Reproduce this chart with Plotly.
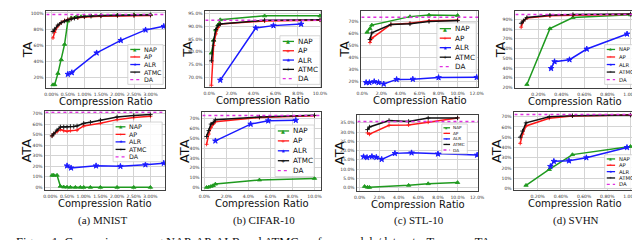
import plotly.graph_objects as go

W, H = 640, 240

# ---------------- data (values in %) ----------------
# (a) MNIST
mn_nap_x = [0.05, 0.1, 0.2, 0.3, 0.4, 0.5, 0.6, 0.75, 0.9, 1.0, 1.2, 1.5, 2.0, 2.5, 3.0]
mn_nap_ta = [11, 11, 25, 42, 61, 90, 94, 95, 95.5, 96, 96.5, 97, 97.5, 98, 98]
mn_nap_ata = [11.5, 11.5, 11.5, 1.0, 0.3, 0.2, 0.1, 0, 0, 0, 0, 0, 0, 0, 0]
mn_ap_x = [0.05, 0.1, 0.2, 0.3, 0.4, 0.5, 0.6, 0.8, 1.0, 1.5, 2.0, 2.5, 3.0]
mn_ap_ta = [69, 76, 84, 88, 90.5, 92, 93, 94, 95, 96, 96.5, 97, 97]
mn_ap_ata = [49, 51, 53, 55, 54, 53.5, 54, 54.5, 58.5, 61, 64.5, 66.5, 67.7]
mn_alr_x = [0.5, 0.62, 1.37, 2.1, 2.85, 3.4]
mn_alr_ta = [24, 26, 50.5, 66, 79, 83.5]
mn_alr_ata = [20.5, 18.5, 20.5, 20, 21.5, 23]
mn_atmc_x = [0.05, 0.1, 0.2, 0.3, 0.4, 0.5, 0.6, 0.7, 0.8, 1.0, 1.2, 1.5, 2.0, 2.5, 3.0]
mn_atmc_ta = [77, 80, 85, 88, 90, 91.5, 92.5, 93.5, 94.5, 95.5, 96, 96.5, 97, 97, 97.5]
mn_atmc_ata = [49, 51, 54.5, 57.5, 57.5, 57.5, 58, 58, 58.5, 61, 62, 64, 67, 68.4, 69.3]
mn_da_ta = 98
mn_da_ata = 71.6
mn_xticks = [0, 0.5, 1.0, 1.5, 2.0, 2.5, 3.0]

# (b) CIFAR-10
cf_nap_x = [0.2, 0.4, 0.6, 0.8, 1.0, 5.0, 10.0]
cf_nap_ta = [79.5, 84.5, 88.5, 90.5, 92.5, 94, 94]
cf_nap_ata = [0.2, 0.5, 1.2, 2, 3.5, 7.7, 9.3]
cf_ap_x = [0.2, 0.4, 0.6, 0.8, 1.0, 5.0, 10.0]
cf_ap_ta = [67, 82.5, 87, 89.5, 90.8, 92, 92.3]
cf_ap_ata = [44, 54.5, 61, 64.5, 67, 71.4, 73.2]
cf_alr_x = [1.0, 4.2, 5.8, 8.3]
cf_alr_ta = [69, 89.3, 90.2, 90.8]
cf_alr_ata = [47.5, 64.6, 68, 68.5]
cf_atmc_x = [0.2, 0.4, 0.6, 0.8, 1.0, 5.0, 10.0]
cf_atmc_ta = [76.5, 84.3, 88.7, 90.3, 90.8, 92.3, 92.5]
cf_atmc_ata = [52, 58, 64.6, 66, 69, 71.8, 73.5]
cf_da_ta = 92.3
cf_da_ata = 73.4
cf_xticks = [0, 2, 4, 6, 8, 10]

# (c) STL-10
st_nap_x = [0.5, 0.8, 1.0, 5.0, 7.0, 10.0]
st_nap_ta = [61, 64, 67, 74, 75.3, 75]
st_nap_ata = [0.7, 0.3, 0.2, 1.3, 2.2, 2.8]
st_ap_x = [0.8, 1.0, 3.0, 5.0, 7.0, 10.0]
st_ap_ta = [52.5, 56, 67.5, 68.5, 70.5, 71]
st_ap_ata = [29.5, 28.8, 33.6, 33.8, 35.3, 37.6]
st_alr_x = [0.4, 0.75, 1.25, 1.7, 2.25, 3.6, 5.3, 8.0, 12.0]
st_alr_ta = [19.2, 19.2, 20, 19.2, 18, 21.8, 22, 23.3, 23.5]
st_alr_ata = [16.7, 16.3, 16.8, 16.4, 15.3, 18.5, 18.8, 18.2, 17.6]
st_atmc_x = [0.8, 1.0, 3.0, 5.0, 7.0, 10.0]
st_atmc_ta = [55, 60.5, 67.5, 68, 70, 70.8]
st_atmc_ata = [31.3, 32.7, 36.2, 35.7, 37.5, 37.6]
st_da_ta = 73.4
st_da_ata = 35.7
st_xticks = [0, 2, 4, 6, 8, 10, 12]

# (d) SVHN
sv_nap_x = [0.1, 0.3, 0.5, 1.0]
sv_nap_ta = [23, 80.5, 92, 94.7]
sv_nap_ata = [3, 18.5, 33, 41]
sv_ap_x = [0.05, 0.07, 0.1, 0.3, 0.5, 1.0]
sv_ap_ta = [82, 88.5, 91.5, 93.7, 94.3, 95.3]
sv_ap_ata = [44, 53, 61, 68.5, 70.7, 71.6]
sv_alr_x = [0.31, 0.34, 0.47, 0.62, 0.97]
sv_alr_ta = [39.5, 46.5, 48.5, 59.5, 75]
sv_alr_ata = [21.5, 26.5, 27, 30, 40]
sv_atmc_x = [0.05, 0.07, 0.1, 0.3, 0.5, 1.0]
sv_atmc_ta = [86, 88.5, 92, 94.3, 95, 95.5]
sv_atmc_ata = [50, 56, 64, 70, 71, 71.6]
sv_da_ta = 95
sv_da_ata = 72.3
sv_xticks = [0.2, 0.4, 0.6, 0.8, 1.0]

series_names = ["NAP", "AP", "ALR", "ATMC", "DA"]
captions = ["(a) MNIST", "(b) CIFAR-10", "(c) STL-10", "(d) SVHN"]
fig_caption = "Figure 1: Comparison among NAP, AP, ALR and ATMC on four models/datasets. Top row: TA"

# ---------------- styles ----------------
GREEN, RED, BLUE, BLACK, MAG = "#1f9a1f", "#ff1a1a", "#1a1aff", "#111111", "#e030e0"
styles = [
    dict(color=GREEN, symbol="triangle-up", size=3.8, glyph="▲"),
    dict(color=RED, symbol="cross-thin", size=2.8, glyph="+"),
    dict(color=BLUE, symbol="star", size=4.2, glyph="★"),
    dict(color=BLACK, symbol="cross-thin", size=3.2, glyph="+"),
]
SANS = "DejaVu Sans"
SERIF = "Liberation Serif"

panels = [
    dict(box=(34, 3, 155, 81), xr=[-0.15, 3.44], yr=[6.5, 102.5], xt=mn_xticks, xf="%.2f%%",
         yt=[20, 40, 60, 80, 100], yf="%d%%", yl="TA", ylx=15,
         data=[(mn_nap_x, mn_nap_ta), (mn_ap_x, mn_ap_ta), (mn_alr_x, mn_alr_ta), (mn_atmc_x, mn_atmc_ta)],
         da=mn_da_ta, leg=(117, 37, 153, 77, 6.3)),
    dict(box=(196, 3, 314, 80), xr=[-0.35, 10.1], yr=[66.2, 95.9], xt=cf_xticks, xf="%.1f%%",
         yt=[70, 75, 80, 85, 90, 95], yf="%.1f%%", yl="TA", ylx=177,
         data=[(cf_nap_x, cf_nap_ta), (cf_ap_x, cf_ap_ta), (cf_alr_x, cf_alr_ta), (cf_atmc_x, cf_atmc_ta)],
         da=cf_da_ta, leg=(272, 28, 313, 77, 7.2)),
    dict(box=(355, 3, 474, 80), xr=[-0.1, 12.15], yr=[15.2, 78.7], xt=st_xticks, xf="%.1f%%",
         yt=[20, 30, 40, 50, 60, 70], yf="%d%%", yl="TA", ylx=337,
         data=[(st_nap_x, st_nap_ta), (st_ap_x, st_ap_ta), (st_alr_x, st_alr_ta), (st_atmc_x, st_atmc_ta)],
         da=st_da_ta, leg=(432, 15, 472, 65, 7.2)),
    dict(box=(512, 3, 634, 81), xr=[0.0, 1.04], yr=[19, 98.7], xt=sv_xticks, xf="%.2f%%",
         yt=[20, 30, 40, 50, 60, 70, 80, 90], yf="%d%%", yl="TA", ylx=497,
         data=[(sv_nap_x, sv_nap_ta), (sv_ap_x, sv_ap_ta), (sv_alr_x, sv_alr_ta), (sv_atmc_x, sv_atmc_ta)],
         da=sv_da_ta, leg=(603, 37, 633, 77, 5.3)),
    dict(box=(33, 104, 155, 184), xr=[-0.15, 3.44], yr=[-3, 72.6], xt=mn_xticks, xf="%.2f%%",
         yt=[0, 10, 20, 30, 40, 50, 60, 70], yf="%d%%", yl="ATA", ylx=14,
         data=[(mn_nap_x, mn_nap_ata), (mn_ap_x, mn_ap_ata), (mn_alr_x, mn_alr_ata), (mn_atmc_x, mn_atmc_ata)],
         da=mn_da_ata, leg=(102, 115, 152, 155, 6.3)),
    dict(box=(193, 105, 314, 184), xr=[-0.18, 10.6], yr=[-3, 76.8], xt=cf_xticks, xf="%.1f%%",
         yt=[0, 10, 20, 30, 40, 50, 60, 70], yf="%d%%", yl="ATA", ylx=175,
         data=[(cf_nap_x, cf_nap_ata), (cf_ap_x, cf_ap_ata), (cf_alr_x, cf_alr_ata), (cf_atmc_x, cf_atmc_ata)],
         da=cf_da_ata, leg=(267, 118, 307, 170, 7.2)),
    dict(box=(351, 108, 474, 185), xr=[-0.23, 12.1], yr=[-2, 39.1], xt=st_xticks, xf="%.1f%%",
         yt=[0, 5, 10, 15, 20, 25, 30, 35], yf="%.1f%%", yl="ATA", ylx=333,
         data=[(st_nap_x, st_nap_ata), (st_ap_x, st_ap_ata), (st_alr_x, st_alr_ata), (st_atmc_x, st_atmc_ata)],
         da=st_da_ata, leg=(437, 117, 463, 147, 4.2)),
    dict(box=(511, 105, 634, 184), xr=[0.0, 1.04], yr=[-2, 74.5], xt=sv_xticks, xf="%.2f%%",
         yt=[0, 10, 20, 30, 40, 50, 60, 70], yf="%d%%", yl="ATA", ylx=493,
         data=[(sv_nap_x, sv_nap_ata), (sv_ap_x, sv_ap_ata), (sv_alr_x, sv_alr_ata), (sv_atmc_x, sv_atmc_ata)],
         da=sv_da_ata, leg=(603, 148, 633, 182, 5.3)),
]


def px(x):
    return x / W


def py(y):
    return 1 - y / H


fig = go.Figure()
layout = dict(width=W, height=H, margin=dict(l=0, r=0, t=0, b=0), paper_bgcolor="white",
              plot_bgcolor="white", showlegend=False)
shapes, annotations = [], []

for i, p in enumerate(panels):
    n = i + 1
    xa = "x" if n == 1 else f"x{n}"
    ya = "y" if n == 1 else f"y{n}"
    x0, y0, x1, y1 = p["box"]
    axcommon = dict(showline=True, linecolor="#404040", linewidth=0.8, mirror=True,
                    showgrid=True, gridcolor="#d4d4d4", gridwidth=1, zeroline=False,
                    ticks="", tickangle=0, tickfont=dict(family=SANS, size=4.5, color="#333"))
    layout["xaxis" if n == 1 else f"xaxis{n}"] = dict(
        axcommon, domain=[px(x0), px(x1)], range=p["xr"], anchor=ya,
        tickvals=p["xt"], ticktext=[p["xf"] % v for v in p["xt"]], ticklabelstandoff=1)
    layout["yaxis" if n == 1 else f"yaxis{n}"] = dict(
        axcommon, domain=[py(y1), py(y0)], range=p["yr"], anchor=xa,
        tickvals=p["yt"], ticktext=[p["yf"] % v for v in p["yt"]], ticklabelstandoff=1)

    for (xs, ys), st, name in zip(p["data"], styles, series_names):
        fig.add_trace(go.Scatter(
            x=xs, y=ys, mode="lines+markers", name=name, xaxis=xa, yaxis=ya,
            line=dict(color=st["color"], width=1.5),
            marker=dict(symbol=st["symbol"], size=st["size"], color=st["color"],
                        line=dict(color=st["color"], width=0.9))))
    fig.add_trace(go.Scatter(
        x=p["xr"], y=[p["da"], p["da"]], mode="lines", name="DA", xaxis=xa, yaxis=ya,
        line=dict(color=MAG, width=1.5, dash="dot")))

    # axis titles
    annotations.append(dict(text=p["yl"], x=px(p["ylx"]), y=py((y0 + y1) / 2), xref="paper", yref="paper",
                            showarrow=False, textangle=-90, xanchor="center", yanchor="middle",
                            font=dict(family=SANS, size=13, color="#111")))
    annotations.append(dict(text="Compression Ratio", x=px((x0 + x1) / 2), y=py(y1 + 6.5), xref="paper",
                            yref="paper", showarrow=False, xanchor="center", yanchor="top", borderpad=0,
                            font=dict(family=SANS, size=10, color="#111")))

    # legend box (manual, compact like matplotlib)
    lx0, ly0, lx1, ly1, fs = p["leg"]
    shapes.append(dict(type="rect", xref="paper", yref="paper", x0=px(lx0), x1=px(lx1),
                       y0=py(ly1), y1=py(ly0), fillcolor="rgba(255,255,255,0.85)",
                       line=dict(color="#cccccc", width=0.8), layer="above"))
    rows = len(series_names)
    rh = (ly1 - ly0 - 2) / rows
    sw = fs * 1.6
    for k, name in enumerate(series_names):
        yy = ly0 + 1 + rh * (k + 0.5)
        sx0 = lx0 + fs * 0.4
        sx1 = sx0 + sw
        if k < 4:
            col = styles[k]["color"]
            shapes.append(dict(type="line", xref="paper", yref="paper", x0=px(sx0), x1=px(sx1),
                               y0=py(yy), y1=py(yy), line=dict(color=col, width=1.3), layer="above"))
            annotations.append(dict(text=styles[k]["glyph"], x=px((sx0 + sx1) / 2), y=py(yy), xref="paper",
                                    yref="paper", showarrow=False, xanchor="center", yanchor="middle",
                                    font=dict(family=SANS, size=fs * 0.7, color=col)))
        else:
            shapes.append(dict(type="line", xref="paper", yref="paper", x0=px(sx0), x1=px(sx1),
                               y0=py(yy), y1=py(yy), line=dict(color=MAG, width=1.3, dash="dot"),
                               layer="above"))
        annotations.append(dict(text=name, x=px(sx1 + fs * 0.3), y=py(yy), xref="paper", yref="paper",
                                showarrow=False, xanchor="left", yanchor="middle",
                                font=dict(family=SANS, size=fs, color="#111")))

caption_x = [91, 256, 414, 574]
for cx, cap in zip(caption_x, captions):
    annotations.append(dict(text=cap, x=px(cx), y=py(214), xref="paper", yref="paper", showarrow=False,
                            xanchor="center", yanchor="middle",
                            font=dict(family=SERIF, size=11, color="#111")))
annotations.append(dict(text=fig_caption, x=px(1), y=py(227), xref="paper", yref="paper", showarrow=False,
                        xanchor="left", yanchor="top", font=dict(family=SERIF, size=12.5, color="#111")))

layout["shapes"] = shapes
layout["annotations"] = annotations
fig.update_layout(**layout)
fig.write_html("out.html")
